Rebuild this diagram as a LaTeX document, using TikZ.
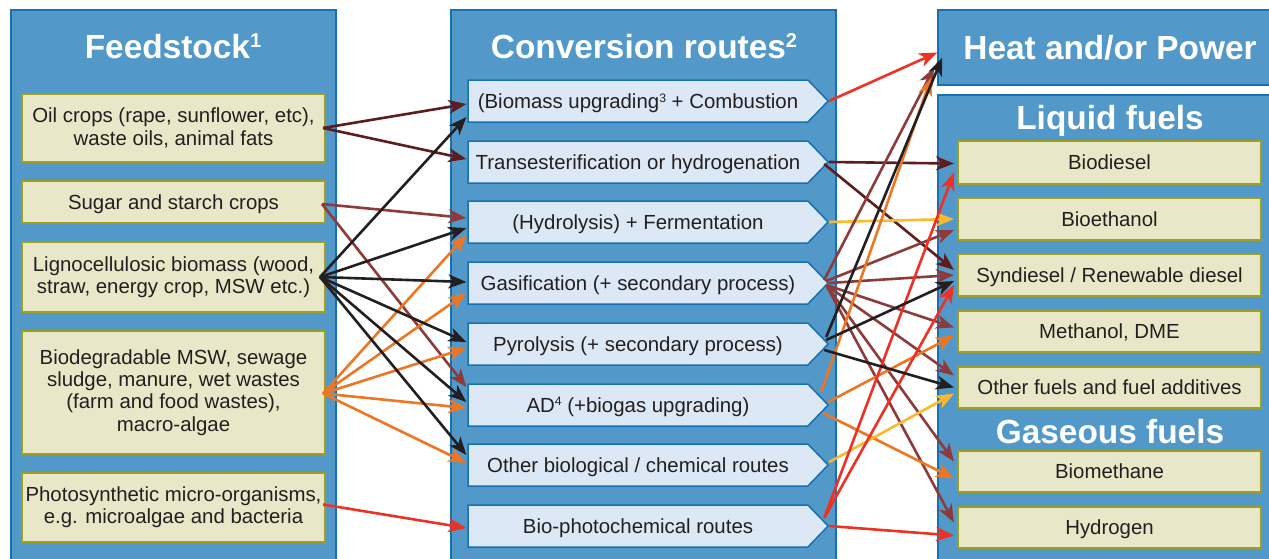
\documentclass[tikz,border=0pt]{standalone}
\usepackage{fontspec}
\setmainfont{Liberation Sans}
\usetikzlibrary{arrows.meta,shapes.symbols}

\definecolor{colblue}{RGB}{82,153,201}
\definecolor{colline}{RGB}{23,112,175}
\definecolor{feedfill}{RGB}{232,232,200}
\definecolor{feedline}{RGB}{160,158,30}
\definecolor{routefill}{RGB}{220,232,245}
\definecolor{txt}{RGB}{35,31,32}
\definecolor{oilc}{RGB}{94,28,28}
\definecolor{brownc}{RGB}{142,58,58}
\definecolor{blackc}{RGB}{35,31,32}
\definecolor{orangec}{RGB}{238,118,35}
\definecolor{redc}{RGB}{238,49,36}
\definecolor{yellowc}{RGB}{253,185,44}

% small raised footnote numbers
\newcommand{\supnum}[1]{\raisebox{0.6ex}{\scalebox{0.6}{#1}}}

\tikzset{
	column/.style={draw=colline, fill=colblue, line width=0.75pt},
	title/.style={text=white, font=\fontsize{16.7}{20}\selectfont\bfseries},
	feedbox/.style={draw=feedline, fill=feedfill, line width=1pt, text=txt, align=center,
		inner sep=1pt, minimum width=151.5pt, font=\fontsize{10.2}{11.2}\selectfont},
	oneline/.style={text depth=0pt},
	routebox/.style={shape=signal, signal to=east, signal pointer angle=92, draw=colline,
		fill=routefill, line width=0.75pt, text=txt, inner sep=1pt, minimum width=180pt,
		minimum height=21pt, text depth=0pt, font=\fontsize{10.2}{11.2}\selectfont},
	link/.style={line width=1.3pt, -{Stealth[length=9pt, width=7pt, inset=2.5pt]}},
}

\begin{document}
\begin{tikzpicture}[x=0.5pt, y=-0.5pt]
	\useasboundingbox (0,0) rectangle (1269,558);
	\clip (0,0) rectangle (1269,558);

	% the three columns
	\node[column, minimum width=162.5pt, minimum height=295pt] at (173.5,305) (feedcol) {};
	\node[column, minimum width=192.5pt, minimum height=295pt] at (643.5,305) (convcol) {};
	\node[column, title, minimum width=172pt, minimum height=37.5pt] at (1110,47.5) (heat) {Heat and/or Power};
	\node[column, minimum width=172pt, minimum height=252.5pt] at (1110,347.5) (fuelcol) {};

	\node[title] at (173,46) (feedtitle) {Feedstock\supnum{1}};
	\node[title] at (644,46) (convtitle) {Conversion routes\supnum{2}};
	\node[title] at (1110,121) (liqtitle) {Liquid fuels};
	\node[title] at (1110,432) (gastitle) {Gaseous fuels};

	% feedstocks
	\node[feedbox, minimum height=34pt] at (173.5,128) (oil) {Oil crops (rape, sunflower, etc),\\waste oils, animal fats};
	\node[feedbox, oneline, minimum height=21pt] at (173.5,202) (sugar) {Sugar and starch crops};
	\node[feedbox, minimum height=35pt] at (173.5,277) (ligno) {Lignocellulosic biomass (wood,\\straw, energy crop, MSW etc.)};
	\node[feedbox, minimum height=61.5pt] at (173.5,392.5) (biodeg) {Biodegradable MSW, sewage\\sludge, manure, wet wastes\\(farm and food wastes),\\macro-algae};
	\node[feedbox, minimum height=34.5pt] at (173.5,507.5) (photo) {Photosynthetic micro-organisms,\\e.g. microalgae and bacteria};

	% conversion routes
	\node[routebox] at (638,101) (p1) {(Biomass upgrading\supnum{3} + Combustion};
	\node[routebox] at (638,162) (p2) {Transesterification or hydrogenation};
	\node[routebox] at (638,222) (p3) {(Hydrolysis) + Fermentation};
	\node[routebox] at (638,283) (p4) {Gasification (+ secondary process)};
	\node[routebox] at (638,344) (p5) {Pyrolysis (+ secondary process)};
	\node[routebox] at (638,405) (p6) {AD\supnum{4} (+biogas upgrading)};
	\node[routebox] at (638,465) (p7) {Other biological / chemical routes};
	\node[routebox] at (638,526) (p8) {Bio-photochemical routes};

	% products
	\node[feedbox, oneline, minimum height=21.5pt] at (1109.5,162.5) (bdiesel) {Biodiesel};
	\node[feedbox, oneline, minimum height=21pt] at (1109.5,219) (bethanol) {Bioethanol};
	\node[feedbox, oneline, minimum height=21pt] at (1109.5,275) (syn) {Syndiesel / Renewable diesel};
	\node[feedbox, oneline, minimum height=20.5pt] at (1109.5,331.5) (methanol) {Methanol, DME};
	\node[feedbox, oneline, minimum height=20.5pt] at (1109.5,387.5) (others) {Other fuels and fuel additives};
	\node[feedbox, oneline, minimum height=20.5pt] at (1109.5,471.5) (biomethane) {Biomethane};
	\node[feedbox, oneline, minimum height=20.5pt] at (1109.5,527.5) (hydrogen) {Hydrogen};

	% feedstock -> conversion
	\draw[link, oilc] ([shift={(-3,0)}]oil.east) to ([shift={(-1,3)}]p1.west);
	\draw[link, oilc] ([shift={(-3,0)}]oil.east) to ([shift={(-1,-3)}]p2.west);
	\draw[link, brownc] ([shift={(-4,2)}]sugar.east) to ([shift={(-1,-4)}]p3.west);
	\draw[link, brownc] ([shift={(-4,2)}]sugar.east) to ([shift={(-1,-18)}]p6.west);
	\draw[link, orangec] ([shift={(-3,1)}]biodeg.east) to ([shift={(-1,13)}]p3.west);
	\draw[link, orangec] ([shift={(-3,1)}]biodeg.east) to ([shift={(-1,10)}]p4.west);
	\draw[link, orangec] ([shift={(-3,1)}]biodeg.east) to ([shift={(-1,4)}]p5.west);
	\draw[link, orangec] ([shift={(-3,1)}]biodeg.east) to ([shift={(-1,3)}]p6.west);
	\draw[link, orangec] ([shift={(-3,1)}]biodeg.east) to ([shift={(-1,-2)}]p7.west);
	\draw[link, blackc] ([shift={(-6,0)}]ligno.east) to ([shift={(-1,16)}]p1.west);
	\draw[link, blackc] ([shift={(-6,0)}]ligno.east) to ([shift={(-1,6)}]p3.west);
	\draw[link, blackc] ([shift={(-6,0)}]ligno.east) to ([shift={(-1,-1)}]p4.west);
	\draw[link, blackc] ([shift={(-6,0)}]ligno.east) to ([shift={(-1,-2)}]p5.west);
	\draw[link, blackc] ([shift={(-6,0)}]ligno.east) to ([shift={(-1,-3)}]p6.west);
	\draw[link, blackc] ([shift={(-6,0)}]ligno.east) to ([shift={(-1,-10)}]p7.west);
	\draw[link, redc] ([shift={(-3,-3)}]photo.east) to ([shift={(-1,2)}]p8.west);

	% conversion -> products
	\draw[link, redc] (p1.east) to ([shift={(0,5)}]heat.west);
	\draw[link, oilc] (p2.east) to ([shift={(-3,1)}]bdiesel.west);
	\draw[link, oilc] ([shift={(-5,2)}]p2.east) to ([shift={(-3,-5)}]syn.west);
	\draw[link, yellowc] (p3.east) to ([shift={(-3,0)}]bethanol.west);
	\draw[link, brownc] ([shift={(-5,-3)}]p4.east) to ([shift={(-3,20)}]heat.west);
	\draw[link, brownc] ([shift={(-3,-2)}]p4.east) to ([shift={(-3,11)}]bethanol.west);
	\draw[link, brownc] (p4.east) to ([shift={(-3,0)}]syn.west);
	\draw[link, brownc] ([shift={(-3,2)}]p4.east) to ([shift={(-3,-4)}]methanol.west);
	\draw[link, brownc] ([shift={(-3,2)}]p4.east) to ([shift={(-3,-12)}]others.west);
	\draw[link, brownc] ([shift={(-3,2)}]p4.east) to ([shift={(-3,-10)}]biomethane.west);
	\draw[link, brownc] ([shift={(-3,2)}]p4.east) to ([shift={(-3,-5)}]hydrogen.west);
	\draw[link, orangec] ([shift={(-8,-13)}]p6.east) to ([shift={(-6,30)}]heat.west);
	\draw[link, orangec] ([shift={(-1,-3)}]p6.east) to ([shift={(-3,4)}]methanol.west);
	\draw[link, orangec] ([shift={(-6,8)}]p6.east) to ([shift={(-3,7)}]biomethane.west);
	\draw[link, yellowc] ([shift={(0,-3)}]p7.east) to ([shift={(-3,6)}]others.west);
	\draw[link, redc] ([shift={(-5,-8)}]p8.east) to ([shift={(-3,10)}]bdiesel.west);
	\draw[link, redc] ([shift={(-5,-8)}]p8.east) to ([shift={(-3,10)}]syn.west);
	\draw[link, redc] (p8.east) to ([shift={(-3,8)}]hydrogen.west);
	\draw[link, blackc] ([shift={(-3,-7)}]p5.east) to ([shift={(5,10)}]heat.west);
	\draw[link, blackc] ([shift={(-3,-4)}]p5.east) to ([shift={(-3,6)}]syn.west);
	\draw[link, blackc] ([shift={(-5,6)}]p5.east) to ([shift={(-3,0)}]others.west);
\end{tikzpicture}
\end{document}
